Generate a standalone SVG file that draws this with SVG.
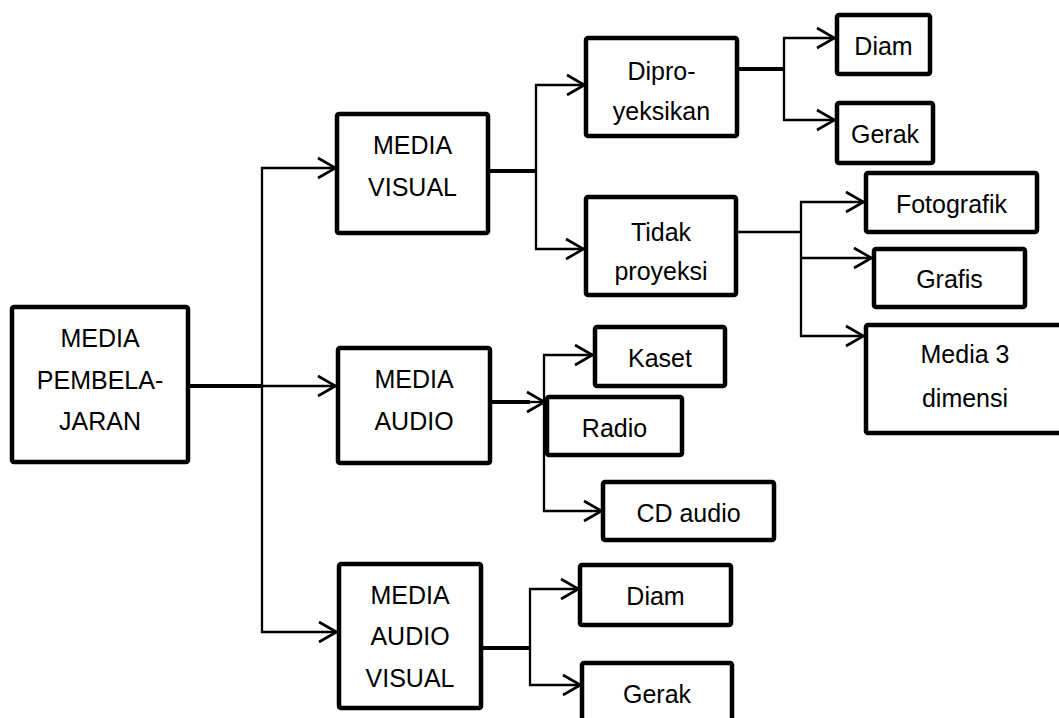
<svg xmlns="http://www.w3.org/2000/svg" width="1059" height="718" viewBox="0 0 1059 718">
<style>
.box{fill:#fff;stroke:#000;stroke-width:4.5}
.t{font-family:"Liberation Sans",Arial,sans-serif;font-size:25px;fill:#000;text-anchor:middle}
.c{fill:none;stroke:#000;stroke-width:2.3}
.k{fill:none;stroke:#000;stroke-width:4}
.a{fill:none;stroke:#000;stroke-width:2.3;marker-end:url(#arr)}
</style>
<defs>
<marker id="arr" markerUnits="userSpaceOnUse" markerWidth="22" markerHeight="24" viewBox="0 0 22 24" refX="19.5" refY="12" orient="auto">
<path d="M1.5,2 L19,12 L1.5,22" fill="none" stroke="#000" stroke-width="2.6"/>
</marker>
</defs>
<rect width="1059" height="718" fill="#fff"/>
<g id="connectors">
<line class="k" x1="188" y1="386" x2="262" y2="386"/>
<line class="c" x1="262" y1="167" x2="262" y2="633"/>
<line class="a" x1="261" y1="168" x2="336" y2="168"/>
<line class="a" x1="262" y1="386" x2="336" y2="386"/>
<line class="a" x1="261" y1="632" x2="337" y2="632"/>
<line class="k" x1="488" y1="171" x2="536" y2="171"/>
<line class="c" x1="536" y1="84" x2="536" y2="250"/>
<line class="a" x1="535" y1="85" x2="585" y2="85"/>
<line class="a" x1="535" y1="249" x2="584" y2="249"/>
<line class="k" x1="737" y1="69" x2="784" y2="69"/>
<line class="c" x1="784" y1="37" x2="784" y2="121"/>
<line class="a" x1="783" y1="38" x2="835" y2="38"/>
<line class="a" x1="783" y1="120" x2="835" y2="120"/>
<line class="c" x1="737" y1="232" x2="801" y2="232"/>
<line class="c" x1="801" y1="201" x2="801" y2="337"/>
<line class="a" x1="800" y1="202" x2="864" y2="202"/>
<line class="a" x1="801" y1="258" x2="872" y2="258"/>
<line class="a" x1="800" y1="336" x2="864" y2="336"/>
<line class="k" x1="490" y1="402" x2="530" y2="402"/>
<line class="a" x1="528" y1="402" x2="545" y2="402"/>
<line class="c" x1="544" y1="354" x2="544" y2="512"/>
<line class="a" x1="543" y1="355" x2="593" y2="355"/>
<line class="a" x1="543" y1="511" x2="602" y2="511"/>
<line class="k" x1="481" y1="648" x2="530" y2="648"/>
<line class="c" x1="530" y1="588" x2="530" y2="686"/>
<line class="a" x1="529" y1="589" x2="579" y2="589"/>
<line class="a" x1="529" y1="685" x2="581" y2="685"/>
</g>
<g id="n-root"><rect class="box" x="12" y="307" width="176" height="155" rx="2"/>
<text class="t" x="100" y="347">MEDIA</text><text class="t" x="100" y="389">PEMBELA-</text><text class="t" x="100" y="430">JARAN</text></g>
<g id="n-visual"><rect class="box" x="337" y="114" width="151" height="119" rx="2"/>
<text class="t" x="412.5" y="154">MEDIA</text><text class="t" x="412.5" y="196">VISUAL</text></g>
<g id="n-audio"><rect class="box" x="338" y="348" width="152" height="115" rx="2"/>
<text class="t" x="414" y="388">MEDIA</text><text class="t" x="414" y="430">AUDIO</text></g>
<g id="n-av"><rect class="box" x="339" y="564" width="142" height="144" rx="2"/>
<text class="t" x="410" y="604">MEDIA</text><text class="t" x="410" y="645">AUDIO</text><text class="t" x="410" y="687">VISUAL</text></g>
<g id="n-dipro"><rect class="box" x="586" y="38" width="151" height="98" rx="2"/>
<text class="t" x="661.5" y="80">Dipro-</text><text class="t" x="661.5" y="120">yeksikan</text></g>
<g id="n-tidak"><rect class="box" x="586" y="197" width="150" height="98" rx="2"/>
<text class="t" x="661" y="241">Tidak</text><text class="t" x="661" y="280">proyeksi</text></g>
<g id="n-diam1"><rect class="box" x="837" y="15" width="93" height="59" rx="2"/>
<text class="t" x="883.5" y="55">Diam</text></g>
<g id="n-gerak1"><rect class="box" x="837" y="103" width="96" height="60" rx="2"/>
<text class="t" x="885" y="143">Gerak</text></g>
<g id="n-foto"><rect class="box" x="866" y="173" width="171" height="59" rx="2"/>
<text class="t" x="951.5" y="213">Fotografik</text></g>
<g id="n-grafis"><rect class="box" x="874" y="249" width="151" height="58" rx="2"/>
<text class="t" x="949.5" y="288">Grafis</text></g>
<g id="n-3d"><rect class="box" x="866" y="325" width="200" height="108" rx="2"/>
<text class="t" x="965" y="363">Media 3</text><text class="t" x="965" y="407">dimensi</text></g>
<g id="n-kaset"><rect class="box" x="595" y="327" width="130" height="59" rx="2"/>
<text class="t" x="660" y="367">Kaset</text></g>
<g id="n-radio"><rect class="box" x="547" y="397" width="135" height="58" rx="2"/>
<text class="t" x="614.5" y="437">Radio</text></g>
<g id="n-cd"><rect class="box" x="603" y="482" width="171" height="58" rx="2"/>
<text class="t" x="688.5" y="522">CD audio</text></g>
<g id="n-diam2"><rect class="box" x="580" y="565" width="151" height="60" rx="2"/>
<text class="t" x="655.5" y="605">Diam</text></g>
<g id="n-gerak2"><rect class="box" x="582" y="663" width="150" height="70" rx="2"/>
<text class="t" x="657" y="703">Gerak</text></g>
</svg>
